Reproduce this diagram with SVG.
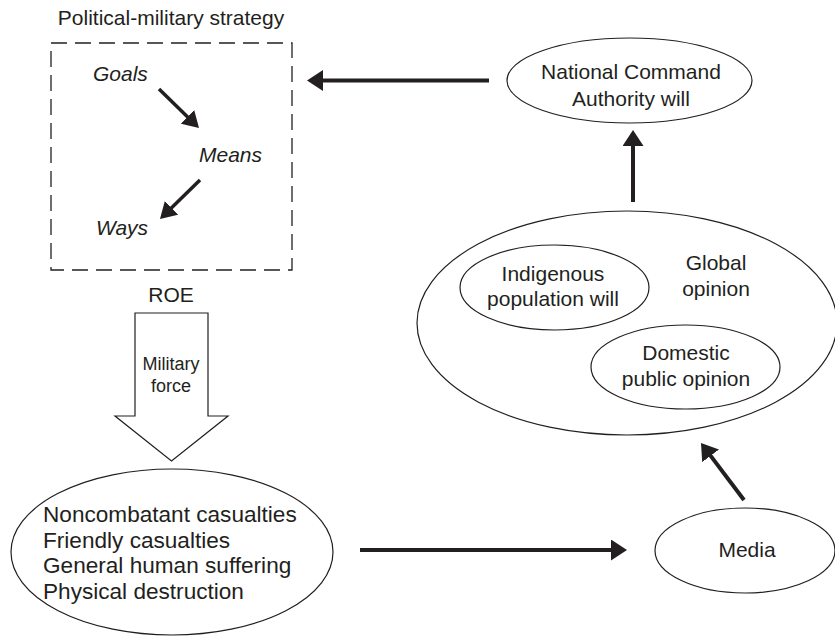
<svg xmlns="http://www.w3.org/2000/svg" width="835" height="637" viewBox="0 0 835 637">
<style>
  text { font-family: "Liberation Sans", Arial, sans-serif; font-size: 21px; fill: #231f20; }
  .it { font-style: italic; }
  .mid { text-anchor: middle; }
  .big { font-size: 22.6px; }
  .small { font-size: 18px; }
  .node { fill: #fff; stroke: #231f20; stroke-width: 1.2; }
  .conn { stroke: #231f20; stroke-width: 4; fill: none; marker-end: url(#ah); }
  .inner { stroke: #231f20; stroke-width: 3.5; fill: none; marker-end: url(#ah2); }
</style>
<defs>
  <marker id="ah" viewBox="0 0 16 21" refX="3" refY="10.5" markerWidth="16" markerHeight="21" markerUnits="userSpaceOnUse" orient="auto">
    <path d="M0,0 L16,10.5 L0,21 z" fill="#231f20"/>
  </marker>
  <marker id="ah2" viewBox="0 0 16 19" refX="3" refY="9.5" markerWidth="16" markerHeight="19" markerUnits="userSpaceOnUse" orient="auto">
    <path d="M0,0 L16,9.5 L0,19 z" fill="#231f20"/>
  </marker>
</defs>
<rect width="835" height="637" fill="#fff"/>

<g id="strategy">
  <text x="171" y="25" class="mid">Political-military strategy</text>
  <rect x="51" y="43" width="241" height="227" fill="none" stroke="#231f20" stroke-width="1.3" stroke-dasharray="16 8"/>
  <text x="93" y="81" class="it">Goals</text>
  <text x="199" y="162" class="it">Means</text>
  <text x="96" y="235" class="it">Ways</text>
  <line x1="159" y1="89" x2="189.7" y2="118.9" class="inner"/>
  <line x1="200" y1="180" x2="169.3" y2="209.9" class="inner"/>
</g>

<g id="roe">
  <text x="171" y="302" class="mid">ROE</text>
  <polygon points="135,313 208,313 208,416 228,416 171.5,461 115,416 135,416" class="node"/>
  <text x="171" y="370" class="mid small">Military</text>
  <text x="171" y="392" class="mid small">force</text>
</g>

<g id="casualties">
  <ellipse cx="172" cy="552" rx="161" ry="83" class="node"/>
  <text x="43" y="522" class="big">Noncombatant casualties</text>
  <text x="43" y="548" class="big">Friendly casualties</text>
  <text x="43" y="573" class="big">General human suffering</text>
  <text x="43" y="599" class="big">Physical destruction</text>
</g>

<g id="media">
  <ellipse cx="745" cy="550.5" rx="90" ry="42.5" class="node"/>
  <text x="747" y="557" class="mid">Media</text>
</g>

<g id="global">
  <ellipse cx="627" cy="323" rx="210" ry="112" class="node"/>
  <text x="716" y="270" class="mid">Global</text>
  <text x="716" y="296" class="mid">opinion</text>
</g>

<g id="indigenous">
  <ellipse cx="554.5" cy="287.5" rx="94.5" ry="42.5" class="node"/>
  <text x="553" y="281" class="mid">Indigenous</text>
  <text x="553" y="306" class="mid">population will</text>
</g>

<g id="domestic">
  <ellipse cx="685.5" cy="367" rx="94.5" ry="42" class="node"/>
  <text x="686" y="360" class="mid">Domestic</text>
  <text x="686" y="386" class="mid">public opinion</text>
</g>

<g id="nca">
  <ellipse cx="629.5" cy="80.5" rx="122.5" ry="42.5" class="node"/>
  <text x="631" y="79" class="mid">National Command</text>
  <text x="631" y="106" class="mid">Authority will</text>
</g>

<g id="connectors">
  <line x1="489" y1="80.5" x2="320" y2="80.5" class="conn"/>
  <line x1="633" y1="202" x2="633" y2="143" class="conn"/>
  <line x1="360" y1="550" x2="614" y2="550" class="conn"/>
  <line x1="744" y1="500" x2="708.8" y2="453.4" class="conn"/>
</g>
</svg>
